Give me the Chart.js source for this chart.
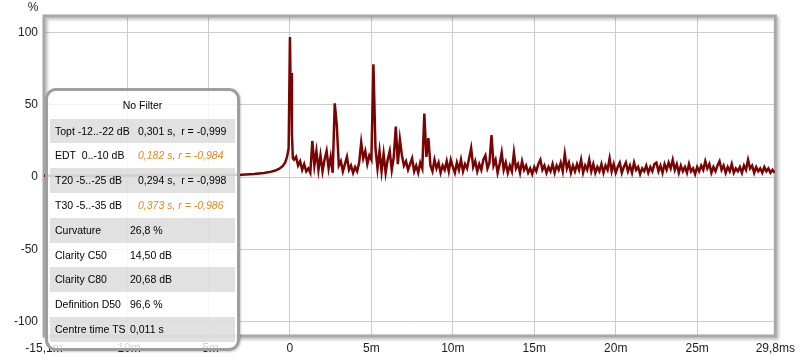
<!DOCTYPE html>
<html><head><meta charset="utf-8">
<script src="https://cdn.jsdelivr.net/npm/chart.js@4.4.1/dist/chart.umd.min.js"></script>
<style>
html,body{margin:0;padding:0;background:#fff;}
#wrap{position:relative;width:800px;height:360px;overflow:hidden;}
#box{position:absolute;left:45px;top:88px;width:195px;height:263px;box-sizing:border-box;border:3px solid #9e9e9e;border-radius:11px;background:rgba(255,255,255,0.8);font:10.5px "Liberation Sans",Arial,sans-serif;color:#000;box-shadow:1px 1px 2px rgba(0,0,0,0.2);}
.title{position:absolute;left:0;right:0;top:7px;line-height:14px;text-align:center;}
.row{position:absolute;left:2px;width:185px;height:24.8px;line-height:24.8px;}
.row.g{background:rgba(205,205,205,0.6);}
.row span{position:absolute;top:0;white-space:nowrap;}
.hl{color:#e0891c;font-style:italic;}
</style></head>
<body>
<div id="wrap">
<canvas id="c" width="800" height="360"></canvas>
<div id="box"></div>
</div>
<script>
// ---- data ----
const preTimes  = [-15.1, -12, -9, -6, -4, -3, -2.2, -1.6, -1.2, -0.9, -0.65, -0.45, -0.3, -0.18, -0.08, 0, 0.04, 0.08, 0.12, 0.18];
const preValues = [1.0, 1.0, 1.1, 1.2, 1.4, 1.7, 2.2, 2.9, 3.6, 4.5, 5.8, 7.5, 10, 14, 20, 97, 62, 72, 30, 13];
const tailStart = 0.25;   // ms
const tailStep  = 0.125;  // ms
const tailValues = [
 12,14,8,11,5,9,4,6,3,25,
 8,18,5,15,4,12,18,6,14,3,
 51,36,8,11,4,9,14,5,8,3,
 7,4,10,24,13,18,9,15,12,78,
 20,6,18,4,16,3,12,18,5,14,
 35,9,26,15,8,11,5,9,13,4,
 8,3,10,6,44,14,27,8,4,12,
 6,10,3,8,5,11,4,12,7,3,
 10,5,12,4,9,6,13,20,7,11,
 4,9,5,12,15,6,10,29,8,12,
 3,9,17,5,10,3,8,4,17,6,
 9,3,11,5,8,3,6,2,7,4,
 9,12,5,8,3,7,4,9,3,8,
 5,10,4,16,6,10,3,8,4,9,
 5,12,3,8,5,12,4,9,3,7,
 4,9,3,8,5,13,4,9,3,7,
 10,3,7,10,4,8,3,10,5,7,
 2,6,4,8,3,7,4,9,10,4,
 8,3,9,5,10,6,12,5,9,3,
 8,4,7,3,9,4,6,2,7,4,
 8,5,11,6,9,3,7,4,8,11,
 5,8,3,7,4,9,3,6,4,7,
 3,8,5,12,6,8,3,7,4,6,
 3,7,4,6,3,5,3
];
const xTickValues = [-15.1, -10, -5, 0, 5, 10, 15, 20, 25, 29.8];
const xTickLabels = ['-15,1m', '-10m', '-5m', '0', '5m', '10m', '15m', '20m', '25m', '29,8ms'];
const yTickValues = [-100, -50, 0, 50, 100];
const boxTitle = 'No Filter';
const statLabels = ['Topt -12..-22 dB', 'EDT  0..-10 dB', 'T20 -5..-25 dB', 'T30 -5..-35 dB', 'Curvature', 'Clarity C50', 'Clarity C80', 'Definition D50', 'Centre time TS'];
const statValues = ['0,301 s,  r = -0,999', '0,182 s, r = -0,984', '0,294 s,  r = -0,998', '0,373 s, r = -0,986', '26,8 %', '14,50 dB', '20,68 dB', '96,6 %', '0,011 s'];
const statHighlight = [false, true, false, true, false, false, false, false, false];

// ---- build ----
const points = preTimes.map((t, i) => ({x: t, y: preValues[i]}))
  .concat(tailValues.map((v, i) => ({x: tailStart + i * tailStep, y: v})));

const box = document.getElementById('box');
let html = '<div class="title">' + boxTitle + '</div>';
statLabels.forEach((lab, i) => {
  const top = 27.6 + 24.8 * i;
  const vx = i < 4 ? 88 : 80;
  html += '<div class="row' + (i % 2 === 0 ? ' g' : '') + '" style="top:' + top + 'px">' +
    '<span style="left:5px">' + lab.replace(/ /g, '&nbsp;') + '</span>' +
    '<span class="' + (statHighlight[i] ? 'hl' : '') + '" style="left:' + vx + 'px">' + statValues[i].replace(/ /g, '&nbsp;') + '</span></div>';
});
box.innerHTML = html;

const framePlugin = {
  id: 'frame',
  beforeDatasetsDraw(chart) {
    const a = chart.chartArea, c = chart.ctx;
    c.save();
    c.shadowColor = 'rgba(0,0,0,0.28)';
    c.shadowBlur = 3; c.shadowOffsetX = 2; c.shadowOffsetY = 2;
    c.strokeStyle = '#a8a8a8'; c.lineWidth = 3;
    c.strokeRect(a.left, a.top, a.right - a.left, a.bottom - a.top);
    c.restore();
    c.save();
    c.fillStyle = '#222';
    c.font = '12px "Liberation Sans", Arial, sans-serif';
    c.textAlign = 'center'; c.textBaseline = 'middle';
    c.fillText('%', 33, 8);
    c.restore();
  }
};

const FONT = {family: '"Liberation Sans", Arial, sans-serif', size: 12};

new Chart(document.getElementById('c'), {
  type: 'line',
  data: {datasets: [{
    data: points,
    borderColor: '#780404',
    borderWidth: 2.5,
    pointRadius: 0,
    tension: 0,
    fill: false
  }]},
  options: {
    responsive: false,
    animation: false,
    devicePixelRatio: 1,
    layout: {padding: {left: 0, right: 19, top: 16, bottom: 0}},
    plugins: {legend: {display: false}, tooltip: {enabled: false}},
    scales: {
      x: {
        type: 'linear', min: -15.1, max: 29.8,
        afterBuildTicks: s => { s.ticks = xTickValues.map(v => ({value: v})); },
        afterFit: s => { s.height = 24; },
        ticks: {autoSkip: false, maxRotation: 0, padding: 5, color: '#222', font: FONT,
          callback: (v, i) => xTickLabels[i]},
        grid: {color: '#cccccc', lineWidth: 1, drawTicks: false},
        border: {display: false}
      },
      y: {
        min: -110, max: 111.5,
        afterBuildTicks: s => { s.ticks = yTickValues.map(v => ({value: v})); },
        afterFit: s => { s.width = 44; },
        ticks: {padding: 6, color: '#222', font: FONT, callback: v => String(v)},
        grid: {color: '#cccccc', lineWidth: 1, drawTicks: false},
        border: {display: false}
      }
    }
  },
  plugins: [framePlugin]
});
</script>
</body></html>
